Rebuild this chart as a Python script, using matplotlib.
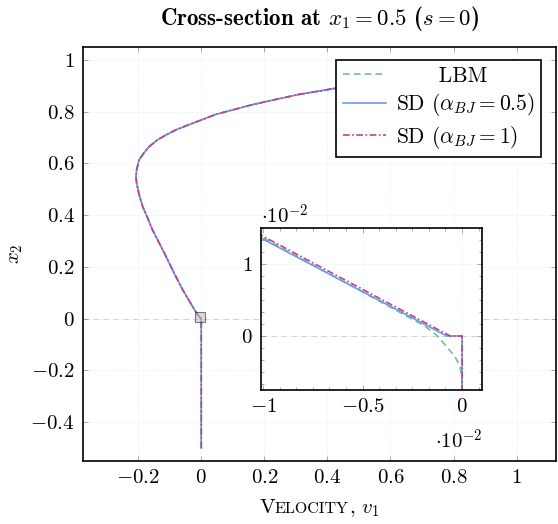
import matplotlib
matplotlib.use("Agg")
import matplotlib.pyplot as plt
from matplotlib import patches
from matplotlib.ticker import FuncFormatter, MultipleLocator
from matplotlib.offsetbox import TextArea, HPacker, AnchoredOffsetbox

plt.rcParams["mathtext.fontset"] = "cm"
plt.rcParams["font.family"] = "cmr10"
plt.rcParams["axes.formatter.use_mathtext"] = True

# profile (shared by all three runs away from the wall)
prof_v = [-0.028, -0.059, -0.086, -0.112, -0.133, -0.155, -0.170, -0.186, -0.197,
          -0.205, -0.207, -0.205, -0.197, -0.181, -0.165, -0.139, -0.112, -0.080,
          -0.049, 0.0, 0.047, 0.100, 0.152, 0.205, 0.311, 0.375, 0.438, 1.0]
prof_x2 = [0.048, 0.112, 0.176, 0.241, 0.292, 0.344, 0.389, 0.434, 0.479,
           0.524, 0.549, 0.575, 0.614, 0.642, 0.665, 0.691, 0.710, 0.730,
           0.745, 0.768, 0.790, 0.807, 0.824, 0.839, 0.867, 0.880, 0.893, 1.0]

lbm_wall_v = [0.0, 0.0, -0.0001, -0.00035, -0.00077, -0.00127, -0.00194, -0.0101, -0.012]
lbm_wall_x2 = [-0.5, -0.0061, -0.0043, -0.0029, -0.0015, 0.0001, 0.0015, 0.0138, 0.0166]
sd05_wall_v = [0.0, 0.0, -0.00077, -0.0101, -0.012]
sd05_wall_x2 = [-0.5, 0.0, 0.0, 0.0136, 0.0164]
sd1_wall_v = [0.0, 0.0, -0.0006, -0.0101, -0.012]
sd1_wall_x2 = [-0.5, 0.0, 0.0, 0.0140, 0.0168]

labels = ["      LBM", r"SD ($\alpha_{BJ} = 0.5$)", r"SD ($\alpha_{BJ} = 1$)"]
colors = ["#72c47a", "#6a9be8", "#c0408f"]
styles = [(0, (4, 2.5)), "-", (0, (4, 1.5, 1, 1.5))]

series = [
    (lbm_wall_v + prof_v, lbm_wall_x2 + prof_x2),
    (sd05_wall_v + prof_v, sd05_wall_x2 + prof_x2),
    (sd1_wall_v + prof_v, sd1_wall_x2 + prof_x2),
]


def fmt(v, _):
    if abs(v) < 1e-12:
        v = 0.0
    return f"${v:g}$"


def fmt_scaled(v, _):
    return fmt(v / 1e-2, _)


fig = plt.figure(figsize=(5.58, 5.24), dpi=100)
ax = fig.add_axes([83 / 558, 63 / 524, 473 / 558, 414 / 524])

for (v, x2), lab, c, ls in zip(series, labels, colors, styles):
    ax.plot(v, x2, color=c, ls=ls, lw=1.2, label=lab)

ax.axhline(0, color="#c8c8c8", ls=(0, (5, 4)), lw=0.8, zorder=0)
ax.add_patch(patches.Rectangle((-0.02, -0.013), 0.032, 0.039, facecolor="#bbbbbb",
                               alpha=0.5, edgecolor="black", lw=0.8, zorder=5))

ax.set_xlim(-0.375, 1.125)
ax.set_ylim(-0.55, 1.05)
ax.xaxis.set_major_locator(MultipleLocator(0.2))
ax.yaxis.set_major_locator(MultipleLocator(0.2))
ax.xaxis.set_major_formatter(FuncFormatter(fmt))
ax.yaxis.set_major_formatter(FuncFormatter(fmt))
ax.tick_params(direction="in", top=True, right=True, length=3.5, width=0.5,
               labelsize=15, color="#888888", pad=6)
ax.grid(True, color="#ececec", lw=0.5, ls=(0, (1, 1)))
for s in ax.spines.values():
    s.set_linewidth(1.2)

ax.set_ylabel(r"$x_2$", fontsize=15, labelpad=4)
ax.set_title(r"Cross-section at $x_1 = 0.5$ ($s = 0$)", fontfamily="cmb10",
             fontsize=16.5, pad=16)

leg = ax.legend(loc="upper right", bbox_to_anchor=(0.968, 0.969), borderaxespad=0,
                fancybox=False, edgecolor="black", framealpha=1, fontsize=15.5,
                handlelength=2.0, handletextpad=0.45, labelspacing=0.25,
                borderpad=0.3)
leg.get_frame().set_linewidth(1.2)

# small-caps x label
parts = [TextArea("V", textprops=dict(fontsize=15)),
         TextArea("ELOCITY", textprops=dict(fontsize=11.5)),
         TextArea(r", $v_1$", textprops=dict(fontsize=15))]
box = HPacker(children=parts, align="baseline", pad=0, sep=0)
fig.add_artist(AnchoredOffsetbox(loc="center", child=box, frameon=False,
                                 bbox_to_anchor=(319.5 / 558, 1 - 509 / 524),
                                 bbox_transform=fig.transFigure, borderpad=0, pad=0))

# inset zoom near the wall
axin = fig.add_axes([261 / 558, 134 / 524, 221 / 558, 162 / 524])
for (v, x2), c, ls in zip(series, colors, styles):
    axin.plot(v, x2, color=c, ls=ls, lw=1.2)
axin.axhline(0, color="#c8c8c8", ls=(0, (5, 4)), lw=0.8, zorder=0)
axin.set_xlim(-0.0101, 0.001)
axin.set_ylim(-0.0075, 0.015)
axin.set_xticks([-0.01, -0.005, 0.0])
axin.set_yticks([0.0, 0.01])
axin.xaxis.set_minor_locator(MultipleLocator(0.005 / 6))
axin.yaxis.set_minor_locator(MultipleLocator(0.01 / 6))
axin.xaxis.set_major_formatter(FuncFormatter(fmt_scaled))
axin.yaxis.set_major_formatter(FuncFormatter(fmt_scaled))
axin.tick_params(which="both", direction="in", top=True, right=True, width=0.5,
                 color="#888888", labelsize=15, pad=6)
axin.tick_params(which="major", length=3.5)
axin.tick_params(which="minor", length=2)
axin.grid(True, color="#ececec", lw=0.5, ls=(0, (1, 1)))
for s in axin.spines.values():
    s.set_linewidth(1.2)
axin.text(0.0, 1.0, r"$\cdot 10^{-2}$", transform=axin.transAxes, fontsize=15,
          ha="left", va="bottom")
axin.text(1.0, -0.31, r"$\cdot 10^{-2}$", transform=axin.transAxes, fontsize=15,
          ha="right", va="center")

fig.savefig("out.png", dpi=100)
